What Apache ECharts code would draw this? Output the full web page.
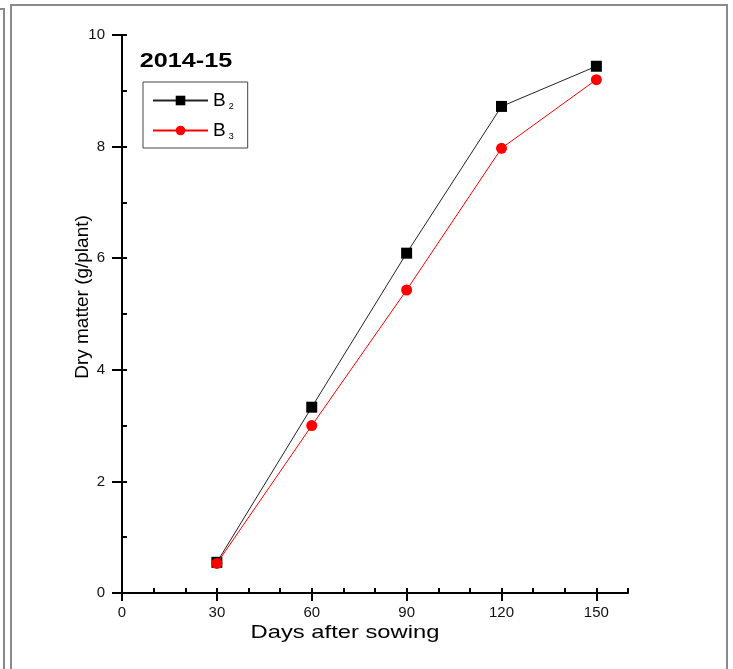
<!DOCTYPE html>
<html>
<head>
<meta charset="utf-8">
<script src="https://cdn.jsdelivr.net/npm/echarts@6/dist/echarts.min.js"></script>
<style>html,body{margin:0;padding:0;background:#fff;}#c{width:733px;height:669px;}</style>
</head>
<body>
<div id="c"></div>
<script>
const days = [30, 60, 90, 120, 150];
const b2 = [0.55, 3.33, 6.09, 8.72, 9.44];
const b3 = [0.53, 3.00, 5.43, 7.97, 9.20];
const xTickLabels = [0, 30, 60, 90, 120, 150];
const yTickLabels = [0, 2, 4, 6, 8, 10];
const seriesNames = ['B2', 'B3'];
const titleText = '2014-15';
const xName = 'Days after sowing';
const yName = 'Dry matter (g/plant)';

const chart = echarts.init(document.getElementById('c'));
const font = 'Liberation Sans, Arial, sans-serif';
const frameColor = '#8a8a8a';
const baseX = {
  type: 'value', min: 0, max: 160, interval: 10, gridIndex: 0,
  splitLine: {show: false}
};
const baseY = {
  type: 'value', min: 0, max: 10, interval: 1, gridIndex: 0,
  splitLine: {show: false}
};
chart.setOption({
  animation: false,
  backgroundColor: '#fff',
  legend: {
    data: seriesNames, orient: 'vertical', left: 143, top: 82,
    padding: [9, 14, 7, 9], itemGap: 10, itemWidth: 55, itemHeight: 12,
    borderColor: '#444', borderWidth: 1,
    formatter: n => '{b|B}{s|' + n.slice(1) + '}',
    textStyle: {
      fontFamily: font, color: '#000',
      rich: {
        b: {fontSize: 19, fontFamily: font, color: '#000'},
        s: {fontSize: 9, fontFamily: font, color: '#000', padding: [12, 0, 0, 3]}
      }
    }
  },
  grid: {left: 122, top: 35, right: 105, bottom: 76, containLabel: false},
  xAxis: [
    Object.assign({}, baseX, {
      axisLine: {show: true, lineStyle: {color: '#000', width: 2}},
      axisTick: {show: true, inside: false, length: 8, customValues: xTickLabels, lineStyle: {color: '#000', width: 2}},
      axisLabel: {show: true, customValues: xTickLabels, margin: 12, fontFamily: font, fontSize: 15, color: '#111'}
    }),
    Object.assign({}, baseX, {
      axisLine: {show: false},
      axisTick: {show: true, inside: false, length: 5, lineStyle: {color: '#000', width: 2}},
      axisLabel: {show: false}
    })
  ],
  yAxis: [
    Object.assign({}, baseY, {
      axisLine: {show: true, lineStyle: {color: '#000', width: 2}},
      axisTick: {show: true, inside: false, length: 10, customValues: yTickLabels, lineStyle: {color: '#000', width: 2}},
      axisLabel: {show: true, customValues: yTickLabels, margin: 17, fontFamily: font, fontSize: 15, color: '#111'}
    }),
    Object.assign({}, baseY, {
      axisLine: {show: false},
      axisTick: {show: true, inside: false, length: 5, lineStyle: {color: '#000', width: 2}},
      axisLabel: {show: false}
    })
  ],
  series: [
    {
      name: seriesNames[0], type: 'line', xAxisIndex: 0, yAxisIndex: 0,
      data: days.map((d, i) => [d, b2[i]]),
      symbol: 'rect', symbolSize: 11,
      lineStyle: {color: '#222', width: 1},
      itemStyle: {color: '#000'}, z: 3
    },
    {
      name: seriesNames[1], type: 'line', xAxisIndex: 0, yAxisIndex: 0,
      data: days.map((d, i) => [d, b3[i]]),
      symbol: 'circle', symbolSize: 11,
      lineStyle: {color: '#ff0000', width: 1},
      itemStyle: {color: '#ff0000'}, z: 4
    }
  ],
  graphic: [
    {type: 'text', x: 186, y: 61, scaleX: 1.2,
      style: {text: titleText, font: 'bold 21px ' + font, fill: '#000', align: 'center', verticalAlign: 'middle'}},
    {type: 'text', x: 345, y: 633, scaleX: 1.25,
      style: {text: xName, font: '19px ' + font, fill: '#000', align: 'center', verticalAlign: 'middle'}},
    {type: 'text', x: 83, y: 297, rotation: Math.PI / 2,
      style: {text: yName, font: '19px ' + font, fill: '#000', align: 'center', verticalAlign: 'middle'}},
    {type: 'line', shape: {x1: 4, y1: 9, x2: 4, y2: 669}, style: {stroke: frameColor, lineWidth: 2}},
    {type: 'line', shape: {x1: 0, y1: 9, x2: 5, y2: 9}, style: {stroke: frameColor, lineWidth: 2}},
    {type: 'line', shape: {x1: 11, y1: 5, x2: 11, y2: 669}, style: {stroke: frameColor, lineWidth: 2}},
    {type: 'line', shape: {x1: 10, y1: 5, x2: 728, y2: 5}, style: {stroke: frameColor, lineWidth: 2}},
    {type: 'line', shape: {x1: 727, y1: 5, x2: 727, y2: 669}, style: {stroke: frameColor, lineWidth: 2}}
  ]
});
</script>
</body>
</html>
